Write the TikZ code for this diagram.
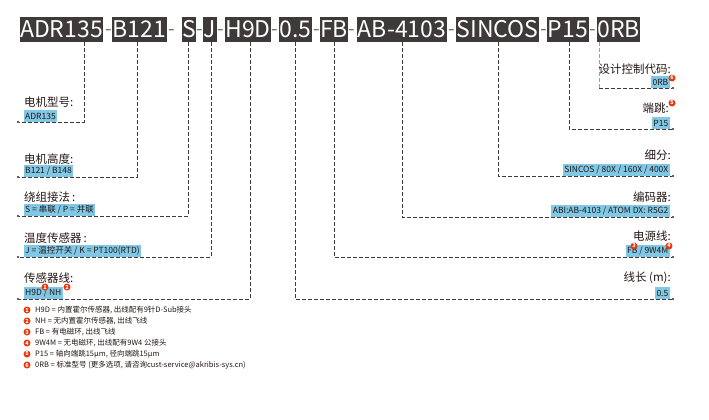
\documentclass[tikz,border=0pt]{standalone}
\usepackage{fontspec}
\setmainfont{Noto Sans CJK SC}
\usetikzlibrary{arrows.meta}

\definecolor{boxgray}{HTML}{3E3A39}
\definecolor{leadgray}{HTML}{9FA0A0}
\definecolor{dashgray}{HTML}{727171}
\definecolor{valblue}{HTML}{80C8E6}
\definecolor{badgered}{HTML}{E8380D}
\definecolor{txtblack}{HTML}{231815}

\tikzset{
  seg/.style={fill=boxgray,text=white,font=\fontsize{23}{23}\selectfont,inner xsep=0.5pt,inner ysep=0pt,minimum height=25pt},
  sepdash/.style={text=dashgray,font=\fontsize{19}{19}\selectfont,inner sep=0pt,anchor=base},
  lead/.style={draw=boxgray,line width=0.8pt,dash pattern=on 3.5pt off 2.5pt},
  leadend/.style={lead,-{Circle[length=2pt]}},
  leadlight/.style={lead,draw=leadgray},
  ttl/.style={text=txtblack,font=\fontsize{11.5}{12}\selectfont,inner sep=0pt},
  val/.style={fill=valblue,text=txtblack,font=\fontsize{8.5}{8.5}\selectfont,inner xsep=1.5pt,inner ysep=0pt,minimum height=11.5pt},
  badge/.style={circle,fill=badgered,text=white,font=\fontsize{5.5}{5.5}\selectfont\bfseries,inner sep=0pt,minimum size=7pt},
  note/.style={anchor=west,text=txtblack,font=\fontsize{7.5}{8}\selectfont,inner sep=0pt}
}

\begin{document}
\begin{tikzpicture}[x=1pt,y=-1pt]
\useasboundingbox (0,0) rectangle (709,420);

% model code
\node[seg] (adr) at (61.5,29.5) {ADR135};
\node[seg] (bht) at (139.5,29.5) {B121};
\node[seg] (wdg) at (189,29.5) {S};
\node[seg] (tsn) at (210,29.5) {J};
\node[seg] (sln) at (248,29.5) {H9D};
\node[seg] (len) at (295.5,29.5) {0.5};
\node[seg] (pwr) at (334,29.5) {FB};
\node[seg] (enc) at (402,29.5) {AB-4103};
\node[seg] (res) at (497.5,29.5) {SINCOS};
\node[seg] (run) at (568,29.5) {P15};
\node[seg] (opt) at (618.5,29.5) {0RB};
\foreach \x [count=\i] in {108.5,172,200,220.5,275,316.5,351.5,451.5,544,592.5}
  \node[sepdash] (d\i) at (\x,36) {-};

% knees and ends
\coordinate (k1) at (84,122);   \coordinate (e1) at (17,122);
\coordinate (k2) at (137,177);  \coordinate (e2) at (17,177);
\coordinate (k3) at (188,216);  \coordinate (e3) at (17,216);
\coordinate (k4) at (211,257);  \coordinate (e4) at (17,257);
\coordinate (k5) at (250,299);  \coordinate (e5) at (17,299);
\coordinate (k6) at (295,299);  \coordinate (e6) at (674,299);
\coordinate (k7) at (334,257);  \coordinate (e7) at (674,257);
\coordinate (k8) at (402,217);  \coordinate (e8) at (674,217);
\coordinate (k9) at (498,176);  \coordinate (e9) at (674,176);
\coordinate (k10) at (569,129); \coordinate (e10) at (674,129);
\coordinate (k11) at (599,88);  \coordinate (e11) at (674,88);

\draw[leadend] (adr.south -| k1) -- (k1) -- (e1);
\draw[leadend] (bht.south -| k2) -- (k2) -- (e2);
\draw[leadend] (wdg.south -| k3) -- (k3) -- (e3);
\draw[leadend] (tsn.south -| k4) -- (k4) -- (e4);
\draw[leadend] (sln.south -| k5) -- (k5) -- (e5);
\draw[leadend] (len.south -| k6) -- (k6) -- (e6);
\draw[leadend] (pwr.south -| k7) -- (k7) -- (e7);
\draw[leadend] (enc.south -| k8) -- (k8) -- (e8);
\draw[leadend] (res.south -| k9) -- (k9) -- (e9);
\draw[leadend] (run.south -| k10) -- (k10) -- (e10);
\draw[leadlight] (opt.south -| k11) -- (k11);
\draw[leadend] (k11) -- (e11);

% left side
\node[ttl,anchor=west] (t1) at (24,102) {电机型号:};
\node[val,anchor=south west] (v1) at (23.5,122) {ADR135};
\node[ttl,anchor=west] (t2) at (24,159) {电机高度:};
\node[val,anchor=south west] (v2) at (23.5,177) {B121 / B148};
\node[ttl,anchor=west] (t3) at (24,197) {绕组接法\,:};
\node[val,anchor=south west] (v3) at (23.5,216) {S = 串联 / P = 并联};
\node[ttl,anchor=west] (t4) at (24,238) {温度传感器\,:};
\node[val,anchor=south west] (v4) at (23.5,257) {J = 温控开关 / K = PT100(RTD)};
\node[ttl,anchor=west] (t5) at (24,278) {传感器线:};
\node[val,anchor=south west] (v5) at (23.5,299) {H9D / NH};
\node[badge] (b1) at (45,287) {1};
\node[badge] (b2) at (67,287) {2};

% right side
\node[ttl,anchor=east] (t6) at (671,69) {设计控制代码:};
\node[val,anchor=south east] (v6) at (670,88) {0RB};
\node[badge] (b6) at (672,78) {6};
\node[ttl,anchor=east] (t7) at (669,108) {端跳:};
\node[val,anchor=south east] (v7) at (670,129) {P15};
\node[badge] (b5) at (672,103) {5};
\node[ttl,anchor=east] (t8) at (671,155) {细分:};
\node[val,anchor=south east] (v8) at (670,176) {SINCOS / 80X / 160X / 400X};
\node[ttl,anchor=east] (t9) at (671,197) {编码器:};
\node[val,anchor=south east] (v9) at (670,217) {ABI:AB-4103 / ATOM DX: R5G2};
\node[ttl,anchor=east] (t10) at (671,236) {电源线:};
\node[val,anchor=south east] (v10) at (670,257) {FB / 9W4M};
\node[badge] (b3) at (634,246) {3};
\node[badge] (b4) at (669,246) {4};
\node[ttl,anchor=east] (t11) at (671,278) {线长 (m):};
\node[val,anchor=south east] (v11) at (670,299) {0.5};

% footnotes
\foreach \t [count=\n] in {
  {H9D = 内置霍尔传感器, 出线配有9针D-Sub接头},
  {NH = 无内置霍尔传感器, 出线飞线},
  {FB = 有电磁环, 出线飞线},
  {9W4M = 无电磁环, 出线配有9W4 公接头},
  {P15 = 轴向端跳15μm, 径向端跳15μm},
  {0RB = 标准型号 (更多选项, 请咨询cust-service@akribis-sys.cn)}}{
  \node[badge] (nb\n) at (27,299+11*\n) {\n};
  \node[note] (nt\n) at (35,299+11*\n) {\t};
}
\end{tikzpicture}
\end{document}
